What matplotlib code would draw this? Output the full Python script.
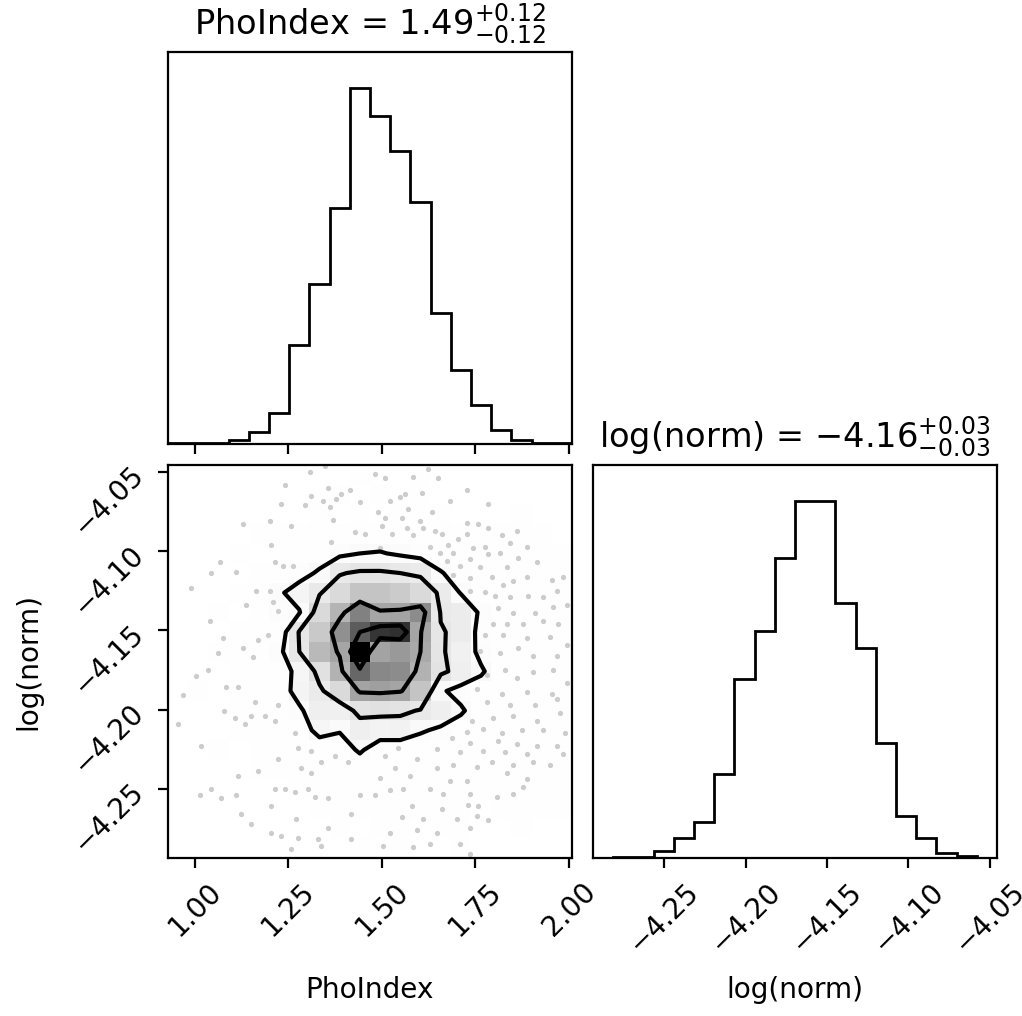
import numpy as np
import matplotlib
matplotlib.use("Agg")
import matplotlib.pyplot as plt
from matplotlib.colors import LinearSegmentedColormap

# ---- parameter ranges (sample minimum / maximum) ----
pho_range = (0.928, 2.008)
norm_range = (-4.2937, -4.0455)

pho_ticks = [1.00, 1.25, 1.50, 1.75, 2.00]
norm_ticks = [-4.25, -4.20, -4.15, -4.10, -4.05]

# ---- marginal histograms (20 bins over each range) ----
pho_counts = [1, 1, 2, 7, 20, 53, 171, 276, 408, 615,
              566, 505, 417, 226, 127, 68, 25, 7, 2, 1]
norm_counts = [0, 1, 2, 11, 31, 57, 132, 282, 359, 474,
               564, 564, 403, 332, 182, 66, 31, 8, 3, 0]

# ---- quantile summaries shown in the titles ----
pho_q50, pho_qm, pho_qp = "1.49", "0.12", "0.12"
norm_q50, norm_qm, norm_qp = "-4.16", "0.03", "0.03"

# ---- joint 2D histogram counts: rows run from high log(norm) (top) to low,
#      columns run from low PhoIndex to high ----
joint_rows = [
    [0, 0, 0, 0, 0, 0, 0, 0, 0, 1, 0, 0, 1, 0, 0, 0, 0, 0, 0, 0],
    [0, 0, 0, 0, 0, 0, 0, 0, 1, 0, 1, 0, 1, 0, 0, 0, 0, 0, 0, 0],
    [0, 0, 0, 0, 0, 0, 0, 1, 0, 1, 0, 1, 1, 1, 0, 0, 0, 1, 0, 0],
    [0, 0, 0, 0, 1, 1, 1, 2, 3, 4, 4, 4, 4, 3, 2, 2, 1, 1, 1, 0],
    [0, 0, 0, 1, 0, 1, 3, 6, 10, 13, 14, 11, 8, 5, 3, 2, 2, 1, 1, 1],
    [0, 0, 0, 0, 1, 3, 8, 15, 29, 32, 32, 30, 28, 14, 7, 3, 2, 1, 1, 1],
    [0, 0, 0, 1, 2, 11, 19, 29, 38, 48, 48, 45, 38, 28, 12, 5, 2, 1, 1, 1],
    [0, 0, 1, 0, 3, 9, 12, 38, 54, 70, 59, 60, 67, 29, 27, 10, 3, 2, 1, 1],
    [0, 0, 0, 1, 1, 4, 31, 46, 66, 80, 89, 90, 59, 31, 27, 7, 3, 2, 1, 1],
    [0, 0, 1, 1, 1, 9, 30, 52, 59, 100, 60, 63, 58, 32, 23, 9, 3, 2, 1, 1],
    [0, 0, 0, 1, 1, 5, 18, 34, 55, 77, 68, 67, 55, 33, 25, 15, 4, 2, 1, 1],
    [0, 1, 0, 1, 1, 4, 20, 28, 38, 60, 61, 59, 48, 15, 8, 6, 3, 2, 2, 1],
    [0, 0, 0, 1, 1, 3, 10, 25, 24, 33, 34, 33, 29, 25, 15, 5, 2, 2, 1, 1],
    [0, 0, 0, 1, 1, 1, 5, 18, 14, 25, 21, 22, 15, 10, 6, 4, 3, 2, 2, 1],
    [0, 0, 1, 0, 1, 1, 2, 4, 6, 15, 5, 4, 3, 3, 3, 3, 2, 2, 2, 1],
    [0, 0, 0, 0, 1, 1, 1, 2, 3, 4, 4, 3, 3, 3, 3, 2, 2, 2, 1, 1],
    [0, 0, 0, 0, 0, 0, 1, 1, 1, 1, 2, 1, 2, 1, 1, 1, 1, 2, 1, 1],
    [0, 0, 0, 0, 0, 0, 0, 1, 1, 1, 1, 1, 1, 1, 1, 0, 1, 1, 1, 1],
    [0, 0, 0, 0, 0, 0, 0, 0, 1, 0, 1, 1, 0, 1, 1, 0, 0, 1, 0, 0],
    [0, 0, 0, 0, 0, 0, 0, 0, 0, 1, 0, 1, 0, 0, 1, 0, 0, 0, 0, 0],
]

# ---- individual samples lying outside the outermost contour ----
outer_samples = [
    (1.347, -4.046), (1.307, -4.050), (1.240, -4.058), (1.356, -4.060), (1.414, -4.061),
    (1.391, -4.064), (1.311, -4.065), (1.342, -4.068), (1.378, -4.067), (1.231, -4.070),
    (1.293, -4.071), (1.360, -4.072), (1.440, -4.069), (1.128, -4.083), (1.200, -4.081),
    (1.258, -4.084), (1.369, -4.080), (1.427, -4.088), (1.454, -4.089), (1.365, -4.094),
    (1.204, -4.096), (1.066, -4.107), (1.213, -4.107), (1.235, -4.109), (1.262, -4.109),
    (1.044, -4.114), (1.111, -4.113), (0.990, -4.123), (1.164, -4.125), (1.200, -4.125),
    (1.209, -4.132), (1.137, -4.134), (1.222, -4.138), (1.039, -4.144), (1.075, -4.155),
    (1.169, -4.156), (1.195, -4.153), (1.062, -4.164), (1.128, -4.161), (1.155, -4.167),
    (1.624, -4.048), (1.481, -4.051), (1.508, -4.054), (1.584, -4.053), (1.651, -4.054),
    (1.726, -4.061), (1.562, -4.064), (1.548, -4.066), (1.606, -4.063), (1.521, -4.068),
    (1.682, -4.068), (1.784, -4.070), (1.490, -4.075), (1.570, -4.073), (1.633, -4.075),
    (1.508, -4.079), (1.553, -4.079), (1.602, -4.081), (1.726, -4.082), (1.758, -4.083),
    (1.784, -4.085), (1.860, -4.087), (1.499, -4.084), (1.566, -4.085), (1.611, -4.085),
    (1.642, -4.087), (1.526, -4.089), (1.584, -4.090), (1.660, -4.089), (1.704, -4.092),
    (1.726, -4.089), (1.820, -4.090), (1.677, -4.096), (1.628, -4.097), (1.744, -4.098),
    (1.775, -4.097), (1.842, -4.095), (1.887, -4.097), (1.495, -4.098), (1.655, -4.101),
    (1.691, -4.101), (1.735, -4.105), (1.784, -4.102), (1.815, -4.101), (1.914, -4.107),
    (1.864, -4.104), (1.673, -4.106), (1.709, -4.109), (1.762, -4.110), (1.833, -4.110),
    (1.793, -4.116), (1.887, -4.116), (1.954, -4.118), (1.985, -4.116), (1.691, -4.115),
    (1.735, -4.117), (1.824, -4.121), (1.851, -4.119), (1.735, -4.125), (1.775, -4.126),
    (1.802, -4.128), (1.842, -4.129), (1.891, -4.128), (1.931, -4.129), (1.967, -4.125),
    (1.811, -4.136), (1.851, -4.139), (1.909, -4.139), (1.958, -4.135), (1.994, -4.134),
    (1.798, -4.146), (1.833, -4.146), (1.878, -4.146), (1.931, -4.144), (1.971, -4.146),
    (1.775, -4.153), (1.824, -4.153), (1.887, -4.155), (1.949, -4.154), (1.994, -4.159),
    (1.762, -4.163), (1.815, -4.164), (1.864, -4.161), (1.905, -4.166), (1.967, -4.166),
    (1.035, -4.175), (1.004, -4.179), (0.968, -4.191), (1.084, -4.186), (1.115, -4.186),
    (1.160, -4.195), (1.222, -4.197), (1.079, -4.201), (1.106, -4.205), (1.151, -4.204),
    (1.186, -4.204), (1.213, -4.207), (0.955, -4.209), (1.133, -4.209), (1.017, -4.223),
    (1.267, -4.215), (1.275, -4.224), (1.311, -4.226), (1.222, -4.231), (1.169, -4.239),
    (1.115, -4.242), (1.284, -4.237), (1.311, -4.240), (1.338, -4.233), (1.374, -4.229),
    (1.409, -4.233), (1.044, -4.250), (1.013, -4.254), (1.071, -4.256), (1.111, -4.254),
    (1.213, -4.250), (1.240, -4.250), (1.267, -4.252), (1.302, -4.250), (1.320, -4.255),
    (1.356, -4.256), (1.204, -4.261), (1.124, -4.266), (1.271, -4.269), (1.418, -4.266),
    (1.440, -4.254), (1.151, -4.272), (1.204, -4.278), (1.231, -4.280), (1.275, -4.281),
    (1.329, -4.282), (1.356, -4.275), (1.418, -4.282), (1.258, -4.288), (1.338, -4.286),
    (1.829, -4.175), (1.780, -4.178), (1.860, -4.180), (1.905, -4.176), (1.958, -4.175),
    (1.994, -4.183), (1.753, -4.187), (1.820, -4.190), (1.887, -4.189), (1.954, -4.190),
    (1.780, -4.195), (1.842, -4.197), (1.909, -4.197), (1.967, -4.193), (1.740, -4.207),
    (1.798, -4.205), (1.851, -4.204), (1.914, -4.207), (1.976, -4.202), (1.726, -4.214),
    (1.771, -4.212), (1.820, -4.215), (1.873, -4.213), (1.931, -4.213), (1.989, -4.215),
    (1.686, -4.218), (1.735, -4.221), (1.811, -4.220), (1.860, -4.222), (1.914, -4.223),
    (1.967, -4.223), (1.544, -4.224), (1.646, -4.225), (1.593, -4.231), (1.508, -4.229),
    (1.709, -4.227), (1.771, -4.226), (1.829, -4.227), (1.887, -4.228), (1.985, -4.228),
    (1.535, -4.237), (1.646, -4.237), (1.691, -4.235), (1.753, -4.236), (1.793, -4.233),
    (1.851, -4.235), (1.905, -4.233), (1.949, -4.235), (1.495, -4.243), (1.575, -4.242),
    (1.682, -4.245), (1.726, -4.245), (1.833, -4.240), (1.887, -4.244), (1.481, -4.254),
    (1.521, -4.251), (1.557, -4.250), (1.628, -4.250), (1.664, -4.253), (1.735, -4.253),
    (1.807, -4.255), (1.851, -4.253), (1.878, -4.249), (1.579, -4.261), (1.660, -4.263),
    (1.731, -4.260), (1.758, -4.261), (1.553, -4.268), (1.611, -4.269), (1.700, -4.269),
    (1.753, -4.267), (1.784, -4.270), (1.521, -4.278), (1.593, -4.276), (1.646, -4.278),
    (1.735, -4.275), (1.504, -4.286), (1.584, -4.287), (1.628, -4.285), (1.709, -4.285),
    (1.735, -4.291),
]

# mass fractions enclosed by the 0.5, 1, 1.5 and 2 sigma contours
sigmas = np.arange(0.5, 2.1, 0.5)
levels = 1.0 - np.exp(-0.5 * sigmas ** 2)

plt.rcParams["font.family"] = ["DejaVu Sans"]
plt.rcParams["font.size"] = 10.1

W, Hpx = 1022, 1016
DPI = 200
fig = plt.figure(figsize=(W / DPI, Hpx / DPI), dpi=DPI)


def frac_rect(x0, y0, x1, y1):
    return [x0 / W, 1 - y1 / Hpx, (x1 - x0) / W, (y1 - y0) / Hpx]


ax_top = fig.add_axes(frac_rect(168, 52, 572, 444))
ax_2d = fig.add_axes(frac_rect(168, 465, 572, 858))
ax_rt = fig.add_axes(frac_rect(593, 465, 997, 858))

x_edges = np.linspace(pho_range[0], pho_range[1], len(pho_counts) + 1)
y_edges = np.linspace(norm_range[0], norm_range[1], len(norm_counts) + 1)
x_mid = 0.5 * (x_edges[1:] + x_edges[:-1])
y_mid = 0.5 * (y_edges[1:] + y_edges[:-1])

# ---- 1D marginal: PhoIndex ----
ax_top.hist(x_mid, bins=x_edges, weights=pho_counts, histtype="step",
            color="k", linewidth=1.0)
ax_top.set_xlim(pho_range)
ax_top.set_ylim(0, 1.1 * max(pho_counts))
ax_top.set_yticks([])
ax_top.set_xticks(pho_ticks)
ax_top.set_xticklabels([])
ax_top.set_title(r"PhoIndex = ${%s}_{-%s}^{+%s}$" % (pho_q50, pho_qm, pho_qp),
                 fontsize=12.1)

# ---- 1D marginal: log(norm) ----
ax_rt.hist(y_mid, bins=y_edges, weights=norm_counts, histtype="step",
           color="k", linewidth=1.0)
ax_rt.set_xlim(norm_range)
ax_rt.set_ylim(0, 1.1 * max(norm_counts))
ax_rt.set_yticks([])
ax_rt.set_xticks(norm_ticks)
for lab in ax_rt.get_xticklabels():
    lab.set_rotation(45)
ax_rt.set_xlabel("log(norm)")
ax_rt.xaxis.set_label_coords(0.5, -0.30)
ax_rt.set_title(r"log(norm) = ${%s}_{-%s}^{+%s}$" % (norm_q50, norm_qm, norm_qp),
                fontsize=12.1)

# ---- 2D joint panel ----
H = np.array(joint_rows, dtype=float)[::-1].T   # H[ix, iy]

Hflat = H.flatten()
order = np.argsort(Hflat)[::-1]
Hflat = Hflat[order]
cum = np.cumsum(Hflat)
cum /= cum[-1]
V = np.empty(len(levels))
for k, v0 in enumerate(levels):
    try:
        V[k] = Hflat[cum <= v0][-1]
    except IndexError:
        V[k] = Hflat[0]
V.sort()
dup = np.diff(V) == 0
while np.any(dup):
    V[np.where(dup)[0][0]] *= 1.0 - 1e-4
    dup = np.diff(V) == 0
V.sort()

# padded grid so contours close at the edges
H2 = H.min() + np.zeros((H.shape[0] + 4, H.shape[1] + 4))
H2[2:-2, 2:-2] = H
H2[2:-2, 1] = H[:, 0]
H2[2:-2, -2] = H[:, -1]
H2[1, 2:-2] = H[0]
H2[-2, 2:-2] = H[-1]
H2[1, 1] = H[0, 0]
H2[1, -2] = H[0, -1]
H2[-2, 1] = H[-1, 0]
H2[-2, -2] = H[-1, -1]
X2 = np.concatenate([x_mid[0] + np.array([-2, -1]) * np.diff(x_mid[:2]), x_mid,
                     x_mid[-1] + np.array([1, 2]) * np.diff(x_mid[-2:])])
Y2 = np.concatenate([y_mid[0] + np.array([-2, -1]) * np.diff(y_mid[:2]), y_mid,
                     y_mid[-1] + np.array([1, 2]) * np.diff(y_mid[-2:])])

white_cmap = LinearSegmentedColormap.from_list("white_cmap", [(1, 1, 1), (1, 1, 1)], N=2)
density_cmap = LinearSegmentedColormap.from_list("density_cmap", [(0, 0, 0, 1), (1, 1, 1, 0)])

sx = [p[0] for p in outer_samples]
sy = [p[1] for p in outer_samples]
ax_2d.plot(sx, sy, "o", ms=1.9, mec="none", color="k", alpha=0.2, zorder=-1)
ax_2d.contourf(X2, Y2, H2.T, [V.min(), H.max()], cmap=white_cmap, antialiased=False)
ax_2d.pcolormesh(x_edges, y_edges, H.max() - H.T, cmap=density_cmap, shading="flat")
ax_2d.contour(X2, Y2, H2.T, V, colors="k", linewidths=1.5)

ax_2d.set_xlim(pho_range)
ax_2d.set_ylim(norm_range)
ax_2d.set_xticks(pho_ticks)
ax_2d.set_yticks(norm_ticks)
for lab in ax_2d.get_xticklabels():
    lab.set_rotation(45)
for lab in ax_2d.get_yticklabels():
    lab.set_rotation(45)
ax_2d.set_xlabel("PhoIndex")
ax_2d.xaxis.set_label_coords(0.5, -0.30)
ax_2d.set_ylabel("log(norm)")
ax_2d.yaxis.set_label_coords(-0.31, 0.5)

fig.savefig("out.png", dpi=DPI)
